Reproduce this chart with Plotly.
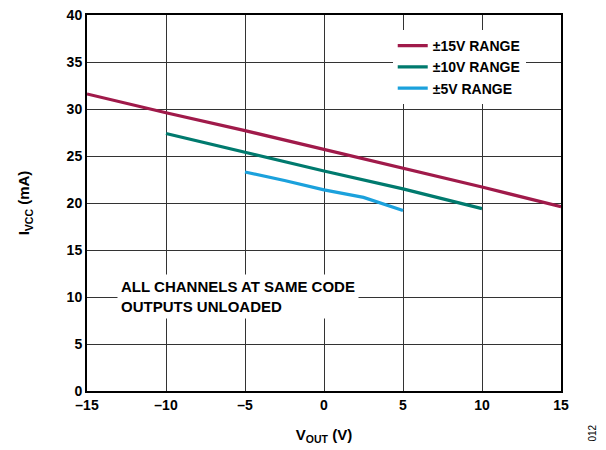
import plotly.graph_objects as go

x15 = [-15, -10, -5, 0, 5, 10, 15]
y15 = [31.6, 29.6, 27.7, 25.7, 23.7, 21.7, 19.6]
x10 = [-10, -5, 0, 5, 10]
y10 = [27.4, 25.4, 23.4, 21.5, 19.4]
x5 = [-5, -2.5, 0, 2.5, 5]
y5 = [23.3, 22.4, 21.4, 20.6, 19.2]

names = ["±15V RANGE", "±10V RANGE", "±5V RANGE"]
colors = ["#A01A4A", "#007A6E", "#1BA1DC"]

xticks = [-15, -10, -5, 0, 5, 10, 15]
xticklabels = ["–15", "–10", "–5", "0", "5", "10", "15"]
yticks = [0, 5, 10, 15, 20, 25, 30, 35, 40]

FONT = "Liberation Sans"

fig = go.Figure()
for xs, ys, n, c in zip([x15, x10, x5], [y15, y10, y5], names, colors):
    fig.add_trace(go.Scatter(x=xs, y=ys, mode="lines", name=n,
                             line=dict(color=c, width=3.2)))

fig.update_layout(
    width=606, height=450,
    margin=dict(l=79, r=53, t=7, b=67, autoexpand=False),
    plot_bgcolor="white", paper_bgcolor="white",
    font=dict(family=FONT, color="black", size=14),
    showlegend=True,
    legend=dict(x=0.645, y=0.96, xanchor="left", yanchor="top",
                bgcolor="white", borderwidth=0,
                font=dict(family=FONT, size=14, color="black", weight="bold"),
                tracegroupgap=0, itemwidth=30),
    xaxis=dict(range=[-15, 15], tickvals=xticks, ticktext=xticklabels,
               showgrid=True, gridcolor="#333333", gridwidth=1.3,
               showline=True, linecolor="black", linewidth=2, mirror=True,
               ticks="", zeroline=False, automargin=False,
               ticklabeloverflow="allow",
               tickfont=dict(family=FONT, size=14, weight="bold"),
               title=dict(text="V<sub>OUT</sub> (V)", standoff=18,
                          font=dict(family=FONT, size=15, weight="bold"))),
    yaxis=dict(range=[0, 40], tickvals=yticks,
               showgrid=True, gridcolor="#333333", gridwidth=1.3,
               showline=True, linecolor="black", linewidth=2, mirror=True,
               ticks="", zeroline=False, automargin=False,
               ticklabeloverflow="allow",
               tickfont=dict(family=FONT, size=14, weight="bold"),
               title=dict(text="I<sub>VCC</sub> (mA)", standoff=33,
                          font=dict(family=FONT, size=15, weight="bold"))),
)

fig.add_annotation(x=-13.1, y=10.05, xref="x", yref="y",
                   text="ALL CHANNELS AT SAME CODE<br>OUTPUTS UNLOADED",
                   showarrow=False, align="left", xanchor="left", yanchor="middle",
                   bgcolor="white", borderpad=3,
                   font=dict(family=FONT, size=15, weight="bold"))

fig.add_annotation(x=1.082, y=-0.14, xref="paper", yref="paper",
                   text="012", showarrow=False, textangle=-90,
                   font=dict(family=FONT, size=10, color="black"))

fig.write_html("out.html")
